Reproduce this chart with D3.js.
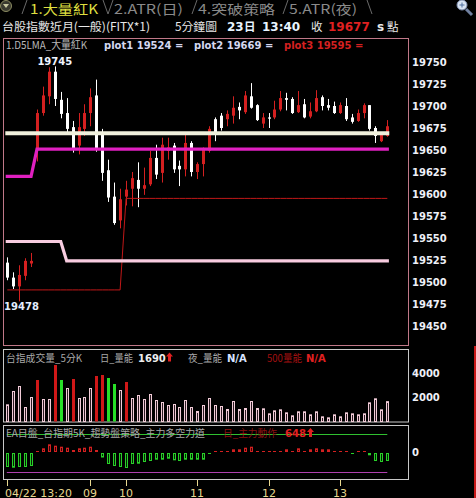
<!DOCTYPE html>
<html><head><meta charset="utf-8">
<script src="https://cdn.jsdelivr.net/npm/d3@7"></script>
<style>
html,body{margin:0;padding:0;background:#000;overflow:hidden}
svg{display:block}
</style></head><body>
<svg id="chart" width="476" height="498"></svg>
<script>
// ---------------- DATA ----------------
const barIndex = d3.range(65);
const xTickIdx = [0, 14, 20, 32, 44, 56];
const xTickLabels = ["04/22 13:20", "09", "10", "11", "12", "13"];
const priceTicks = [19450,19475,19500,19525,19550,19575,19600,19625,19650,19675,19700,19725,19750];
const volTicks = [2000, 4000];
const forceTicks = [0];

const opens  = [19522,19505,19495,19507,19521,19652,19692,19711,19739,19707,19692,19676,19655,19674,19692,19712,19669,19627,19597,19570,19597,19606,19616,19606,19611,19641,19624,19649,19655,19632,19628,19658,19625,19634,19649,19685,19689,19685,19689,19699,19693,19711,19701,19680,19687,19687,19696,19709,19708,19693,19702,19688,19694,19710,19701,19700,19692,19700,19687,19683,19692,19701,19675,19660,19666];
const highs  = [19528,19511,19519,19527,19533,19696,19722,19744,19745,19716,19709,19683,19692,19702,19720,19730,19674,19639,19613,19606,19615,19625,19636,19630,19649,19656,19664,19664,19658,19638,19668,19660,19636,19653,19677,19687,19692,19695,19711,19704,19717,19726,19702,19692,19692,19706,19717,19715,19710,19717,19708,19704,19718,19712,19708,19705,19704,19709,19691,19696,19703,19701,19677,19670,19684];
const lows   = [19502,19492,19478,19502,19517,19637,19689,19702,19700,19686,19668,19647,19645,19666,19677,19648,19615,19591,19565,19561,19587,19586,19585,19599,19609,19617,19613,19639,19624,19609,19620,19620,19617,19620,19647,19660,19672,19677,19680,19685,19691,19697,19683,19675,19675,19685,19694,19695,19691,19692,19686,19686,19693,19695,19695,19691,19691,19683,19680,19682,19686,19672,19658,19659,19665];
const closes = [19505,19495,19508,19524,19524,19692,19712,19739,19708,19691,19674,19652,19676,19692,19710,19651,19624,19596,19567,19594,19605,19618,19606,19610,19641,19622,19656,19653,19628,19628,19658,19625,19634,19651,19674,19670,19675,19691,19698,19695,19712,19698,19684,19687,19686,19696,19709,19707,19692,19701,19687,19694,19709,19700,19698,19692,19701,19685,19682,19692,19701,19674,19666,19667,19677];

const plot1 = [19546,19546,19546,19546,19546,19546,19546,19546,19546,19546,19524,19524,19524,19524,19524,19524,19524,19524,19524,19524,19524,19524,19524,19524,19524,19524,19524,19524,19524,19524,19524,19524,19524,19524,19524,19524,19524,19524,19524,19524,19524,19524,19524,19524,19524,19524,19524,19524,19524,19524,19524,19524,19524,19524,19524,19524,19524,19524,19524,19524,19524,19524,19524,19524,19524];
const plot2 = [19669,19669,19669,19669,19669,19669,19669,19669,19669,19669,19669,19669,19669,19669,19669,19669,19669,19669,19669,19669,19669,19669,19669,19669,19669,19669,19669,19669,19669,19669,19669,19669,19669,19669,19669,19669,19669,19669,19669,19669,19669,19669,19669,19669,19669,19669,19669,19669,19669,19669,19669,19669,19669,19669,19669,19669,19669,19669,19669,19669,19669,19669,19669,19669,19669];
const plot3 = [19491,19491,19491,19491,19491,19491,19491,19491,19491,19491,19491,19491,19491,19491,19491,19491,19491,19491,19491,19491,19595,19595,19595,19595,19595,19595,19595,19595,19595,19595,19595,19595,19595,19595,19595,19595,19595,19595,19595,19595,19595,19595,19595,19595,19595,19595,19595,19595,19595,19595,19595,19595,19595,19595,19595,19595,19595,19595,19595,19595,19595,19595,19595,19595,19595];
const plot4 = [19620,19620,19620,19620,19620,19651,19651,19651,19651,19651,19651,19651,19651,19651,19651,19651,19651,19651,19651,19651,19651,19651,19651,19651,19651,19651,19651,19651,19651,19651,19651,19651,19651,19651,19651,19651,19651,19651,19651,19651,19651,19651,19651,19651,19651,19651,19651,19651,19651,19651,19651,19651,19651,19651,19651,19651,19651,19651,19651,19651,19651,19651,19651,19651,19651];

const volumes = [1425,2531,2946,1203,2033,3444,1867,1867,4689,3444,2780,3527,1950,2033,2780,3776,3859,3610,3112,2614,3278,1950,2199,1867,2282,1784,1618,1369,1452,1203,1784,1203,871,1369,1950,1369,1286,1037,1701,1037,1120,1701,1120,1093,678,927,1010,761,512,844,844,595,844,429,346,595,429,761,678,595,678,1591,1923,1010,1690];
const volKind = ["n","n","n","n","n","r","n","n","r","g","n","r","n","n","n","r","r","g","g","n","r","n","n","n","n","n","n","n","n","n","n","n","n","n","n","n","n","n","n","n","n","n","n","n","n","n","n","n","n","n","n","n","n","n","n","n","n","n","n","n","n","n","n","n","n"];

const force = [-140,-147,-140,-140,-130,10,37,77,63,53,43,20,37,43,53,20,-45,-110,-130,-140,-150,-110,-107,-90,-80,-67,-67,-57,-73,-80,-67,-67,-67,-67,-10,10,10,10,27,27,43,53,10,10,10,10,10,27,10,37,10,27,37,27,27,10,10,10,-10,10,10,-23,-80,-90,-80];
const forceUpper = 190;
const forceLower = -198;

const lastVolume = 1690;
const mainAction = 648;
const highLabel = 19745;
const lowLabel = 19478;

// ---------------- DRAW ----------------
const svg = d3.select("#chart");
const N = barIndex.length;
const CJK = "'Noto Sans CJK TC','Noto Sans CJK SC',sans-serif";
const NUM = "'DejaVu Sans',Verdana,sans-serif";

svg.append("rect").attr("width",476).attr("height",498).attr("fill","#000");

const x = d3.scaleLinear().domain([0, N-1]).range([7.3, 387.3]);
const px = i => Math.round(x(i));
const y = d3.scaleLinear().domain([19450, 19750]).range([326, 62]);
const yv = d3.scaleLinear().domain([0, 4000]).range([421.5, 373.3]);
const yf = d3.scaleLinear().domain([-200, 200]).range([472.5, 432.5]);

function fitText(g, str, tx, ty, size, fill, width, family, weight){
  const t = g.append("text").attr("x",tx).attr("y",ty).attr("font-size",size).attr("fill",fill)
    .attr("font-family", family || CJK).text(str);
  if (weight) t.attr("font-weight", weight);
  if (width) t.attr("textLength", width).attr("lengthAdjust","spacingAndGlyphs");
  return t;
}

// ---- tab strip ----
const tabs = svg.append("g");
tabs.append("circle").attr("cx",6).attr("cy",6).attr("r",5.5).attr("fill","#3a3a30").attr("stroke","#8a8a60");
tabs.append("path").attr("d","M3,4 L9,4 L6,8 Z").attr("fill","#c8c8a0");
const sepColor = "#6a6a6a";
[[22,14,27,0],[103,0,108,14],[108,14,113,0],[192,14,197,0],[283,14,288,0],[367,0,372,14]].forEach(s=>{
  tabs.append("line").attr("x1",s[0]).attr("y1",s[1]).attr("x2",s[2]).attr("y2",s[3]).attr("stroke",sepColor).attr("stroke-width",1);
});
const tabText = [["1.大量紅K",30,"#e0e040",68],["2.ATR(日)",114,"#8a8a8a",69],["4.突破策略",198,"#8a8a8a",77],["5.ATR(夜)",289,"#8a8a8a",68]];
tabText.forEach(t=> fitText(tabs, t[0], t[1], 13.5, 13, t[2], t[3]));
tabs.append("line").attr("x1",466).attr("y1",9).attr("x2",472).attr("y2",15).attr("stroke","#7080a0").attr("stroke-width",3);
tabs.append("circle").attr("cx",462).attr("cy",5).attr("r",5).attr("fill","#d8e4f4").attr("stroke","#8090b0");
tabs.append("path").attr("d","M459.5,5 H464.5 M462,2.5 V7.5").attr("stroke","#5070a0").attr("stroke-width",1);

// ---- header line ----
const hdr = svg.append("g");
fitText(hdr, "台股指數近月(一般)(FITX*1)", 2, 30.5, 11.5, "#e8e8e8", 148);
fitText(hdr, "5分鐘圖", 175, 30.5, 11.5, "#e8e8e8", 42);
fitText(hdr, "23", 227, 30.5, 12, "#e8f4ff", null, NUM, "bold");
fitText(hdr, "日", 244, 30.5, 11.5, "#e8f4ff", null, CJK, "bold");
fitText(hdr, "13:40", 262, 30.5, 12, "#e8f4ff", null, NUM, "bold");
fitText(hdr, "收", 311, 30.5, 11.5, "#e8e8e8");
fitText(hdr, String(closes[N-1]), 328, 30.5, 12, "#e02020", null, NUM, "bold");
fitText(hdr, "s", 377, 30.5, 12, "#e8e8e8", null, NUM, "bold");
fitText(hdr, "點", 387, 30.5, 11.5, "#e8e8e8");

// ---- panels ----
svg.append("rect").attr("x",3.5).attr("y",38.5).attr("width",405).attr("height",307).attr("fill","none").attr("stroke","#c07888");
svg.append("rect").attr("x",3.5).attr("y",349.5).attr("width",405).attr("height",72.5).attr("fill","none").attr("stroke","#c8c8c8");
svg.append("rect").attr("x",3.5).attr("y",425.5).attr("width",405).attr("height",54).attr("fill","none").attr("stroke","#c8c8c8");
svg.append("rect").attr("x",474).attr("y",346).attr("width",2).attr("height",152).attr("fill","#c81818");

// ---- candles ----
const cg = svg.append("g");
barIndex.forEach(i=>{
  const up = closes[i] >= opens[i];
  const cx = px(i);
  const col = up ? "#d42020" : "#ffffff";
  cg.append("line").attr("x1",cx+0.5).attr("x2",cx+0.5).attr("y1",y(highs[i])).attr("y2",y(lows[i])).attr("stroke",col).attr("stroke-width",1);
  const top = Math.min(y(opens[i]), y(closes[i]));
  const h = Math.max(1.2, Math.abs(y(opens[i]) - y(closes[i])));
  cg.append("rect").attr("x",cx-1).attr("width",3).attr("y",top).attr("height",h).attr("fill",col);
});

// ---- lines ----
const lineGen = arr => d3.line().x((d,i)=>x(i)).y(d=>y(d))(arr);
svg.append("path").attr("d",lineGen(plot3)).attr("fill","none").attr("stroke","#c01818").attr("stroke-width",1);
svg.append("path").attr("d",lineGen(plot1)).attr("fill","none").attr("stroke","#f8cce0").attr("stroke-width",3.2).attr("stroke-linecap","square");
svg.append("path").attr("d",lineGen(plot4)).attr("fill","none").attr("stroke","#e020c0").attr("stroke-width",3.2).attr("stroke-linecap","square");
svg.append("path").attr("d",lineGen(plot2)).attr("fill","none").attr("stroke","#f0f0dc").attr("stroke-width",4).attr("stroke-linecap","square");

// ---- high / low labels ----
const hiIdx = highs.indexOf(d3.max(highs));
const loIdx = lows.indexOf(d3.min(lows));
svg.append("text").attr("x",x(hiIdx)).attr("y",y(highLabel)-1).attr("text-anchor","middle")
  .attr("font-family",NUM).attr("font-weight","bold").attr("font-size",10).attr("fill","#eef4ff").text(String(highLabel));
svg.append("text").attr("x",Math.max(x(loIdx),21.5)).attr("y",y(lowLabel)+9).attr("text-anchor","middle")
  .attr("font-family",NUM).attr("font-weight","bold").attr("font-size",10).attr("fill","#e4eeff").text(String(lowLabel));

// ---- main legend ----
const lg = svg.append("g");
fitText(lg, "1.D5LMA_大量紅K", 6, 49, 11, "#b8b8b8", 81);
fitText(lg, `plot1 ${plot1[N-1]} =`, 104, 49, 10, "#d4d8f0", null, NUM, "bold");
fitText(lg, `plot2 ${plot2[N-1]} =`, 194, 49, 10, "#d4d8f0", null, NUM, "bold");
fitText(lg, `plot3 ${plot3[N-1]} =`, 284, 49, 10, "#d42020", null, NUM, "bold");

// ---- axes ----
function styleAxis(g){
  g.select(".domain").remove();
  g.selectAll(".tick line").remove();
  g.attr("font-family",NUM).attr("font-size",10).attr("font-weight","bold");
  g.selectAll(".tick text").attr("fill","#eef0f8");
}
svg.append("g").attr("transform","translate(409,0)").call(d3.axisRight(y).tickValues(priceTicks).tickSize(0).tickPadding(3).tickFormat(d3.format("d"))).call(styleAxis);
svg.append("g").attr("transform","translate(409,0)").call(d3.axisRight(yv).tickValues(volTicks).tickSize(0).tickPadding(3).tickFormat(d3.format("d"))).call(styleAxis);
svg.append("g").attr("transform","translate(409,0)").call(d3.axisRight(yf).tickValues(forceTicks).tickSize(0).tickPadding(3).tickFormat(d3.format("d"))).call(styleAxis);

// ---- volume bars ----
const vg = svg.append("g");
barIndex.forEach(i=>{
  const cx = px(i);
  const top = yv(volumes[i]);
  const k = volKind[i];
  if (k === "n") {
    vg.append("rect").attr("x",cx-0.5).attr("width",2).attr("y",top+0.5).attr("height",421.5-top-0.5)
      .attr("fill","#2a1c22").attr("stroke","#f2ccd8").attr("stroke-width",1);
  } else {
    vg.append("rect").attr("x",cx-1).attr("width",3).attr("y",top).attr("height",421.5-top)
      .attr("fill", k === "r" ? "#d01818" : "#28e028");
  }
});
const vl = svg.append("g");
fitText(vl, "台指成交量_5分K", 6, 361.5, 10.5, "#a8a8a8", 76);
fitText(vl, "日_量能", 100, 361.5, 10.5, "#a8a8a8", 33);
fitText(vl, String(lastVolume), 138, 361.5, 10, "#eeeeee", null, NUM, "bold");
fitText(vl, "夜_量能", 188, 361.5, 10.5, "#a8a8a8", 34);
fitText(vl, "N/A", 227, 361.5, 10, "#d8e4ff", null, NUM, "bold");
fitText(vl, "500量能", 267, 361.5, 10.5, "#a01010", 35);
fitText(vl, "N/A", 306, 361.5, 10, "#e02020", null, NUM, "bold");
function upArrow(g, ax, base){
  g.append("path").attr("d",`M${ax+3.5},${base-9} L${ax},${base-5} L${ax+2},${base-5} L${ax+2},${base} L${ax+5},${base} L${ax+5},${base-5} L${ax+7},${base-5} Z`).attr("fill","#e02020");
}
upArrow(vl, 166, 361.5);

// ---- force panel ----
const fg = svg.append("g");
fg.append("line").attr("x1",x(0)-0.5).attr("x2",x(N-1)).attr("y1",Math.round(yf(forceUpper))+0.5).attr("y2",Math.round(yf(forceUpper))+0.5).attr("stroke","#30c030");
fg.append("line").attr("x1",x(0)-0.5).attr("x2",x(N-1)).attr("y1",Math.round(yf(forceLower))+0.5).attr("y2",Math.round(yf(forceLower))+0.5).attr("stroke","#b040b0");
barIndex.forEach(i=>{
  const cx = px(i);
  const v = force[i];
  const h = Math.abs(yf(v) - yf(0));
  if (v >= 0) {
    if (h <= 1.5) fg.append("rect").attr("x",cx-1).attr("width",3).attr("y",451).attr("height",1).attr("fill","#d42020");
    else fg.append("rect").attr("x",cx-0.5).attr("width",2).attr("y",452-h+0.5).attr("height",h-1).attr("fill","#300808").attr("stroke","#d42020");
  } else {
    if (h <= 1.5) fg.append("rect").attr("x",cx-1).attr("width",3).attr("y",453).attr("height",1).attr("fill","#28d028");
    else fg.append("rect").attr("x",cx-0.5).attr("width",2).attr("y",453.5).attr("height",h-1).attr("fill","#062006").attr("stroke","#28d028");
  }
});
fitText(fg, "EA日盤_台指期5K_趨勢盤策略_主力多空力道", 6, 437, 10.5, "#a8a8a8", 199);
fitText(fg, "日_主力動作", 223, 437, 10.5, "#8a1010", 54);
fitText(fg, String(mainAction), 285, 437, 10, "#e02020", null, NUM, "bold");
upArrow(fg, 307, 437);

// ---- x axis ----
const xa = svg.append("g").attr("transform","translate(0,480)")
  .call(d3.axisBottom(x).tickValues(xTickIdx).tickSize(6).tickFormat((d,i)=>xTickLabels[i]));
xa.select(".domain").remove();
xa.selectAll(".tick line").attr("stroke","#e8d890").attr("transform","translate(0.5,0)");
xa.attr("font-family",NUM).attr("font-size",11);
xa.selectAll(".tick text").attr("fill","#e8d890").attr("y",16.5).attr("dy",0)
  .attr("text-anchor",(d,i)=> i===0 ? "start" : "middle").attr("dx",(d,i)=> i===0 ? -2 : 0);
xa.selectAll(".tick").attr("transform", d => `translate(${px(d)},0)`);
</script>
</body></html>
